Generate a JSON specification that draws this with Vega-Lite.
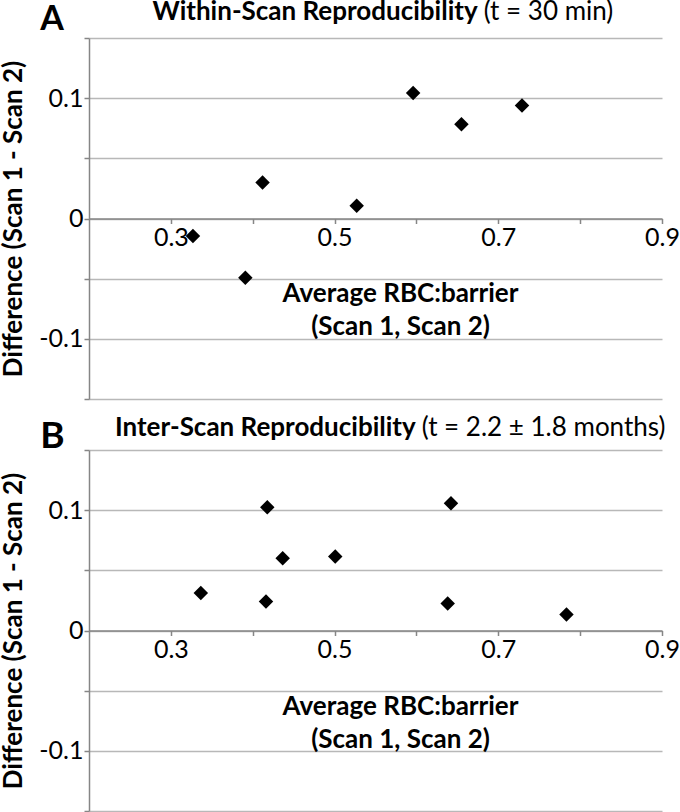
{
  "$schema": "https://vega.github.io/schema/vega-lite/v6.json",
  "padding": {"left": 0, "top": -2, "right": 0, "bottom": 0},
  "spacing": 3,
  "config": {
    "font": "Lato",
    "view": {"stroke": null},
    "axis": {
      "domainColor": "#868686", "domainWidth": 1.5,
      "tickColor": "#868686", "tickWidth": 1.5, "tickSize": 5,
      "labelColor": "black", "labelFontSize": 25, "labelFont": "Lato",
      "titleColor": "black", "titleFont": "Lato", "titleFontWeight": "bold",
      "gridColor": "#b8b8b8", "gridWidth": 1.5
    }
  },
  "datasets": {
    "a": [
      {"avg": 0.327, "diff": -0.0145},
      {"avg": 0.391, "diff": -0.0493},
      {"avg": 0.412, "diff": 0.0299},
      {"avg": 0.527, "diff": 0.0105},
      {"avg": 0.596, "diff": 0.1043},
      {"avg": 0.655, "diff": 0.0783},
      {"avg": 0.729, "diff": 0.0939}
    ],
    "b": [
      {"avg": 0.3366, "diff": 0.0312},
      {"avg": 0.4178, "diff": 0.1024},
      {"avg": 0.4162, "diff": 0.0241},
      {"avg": 0.4366, "diff": 0.0600},
      {"avg": 0.5008, "diff": 0.0615},
      {"avg": 0.6422, "diff": 0.1057},
      {"avg": 0.6382, "diff": 0.0224},
      {"avg": 0.7833, "diff": 0.0133}
    ],
    "titles": [
      {"panel": "A", "heading": "Within-Scan Reproducibility", "note": "(t = 30 min)"},
      {"panel": "B", "heading": "Inter-Scan Reproducibility", "note": "(t = 2.2 ± 1.8 months)"}
    ]
  },
  "vconcat": [
    {
      "width": 573, "height": 361,
      "layer": [
        {
          "data": {"name": "a"},
          "mark": {"type": "point", "shape": "diamond", "filled": true, "color": "black", "opacity": 1, "size": 210},
          "encoding": {
            "x": {"field": "avg", "type": "quantitative",
              "scale": {"domain": [0.2, 0.9], "nice": false, "zero": false},
              "axis": {"orient": "bottom", "offset": -180.5, "grid": false,
                "values": [0.3, 0.4, 0.5, 0.6, 0.7, 0.8, 0.9],
                "labelExpr": "round(datum.value*10)%2==1 ? format(datum.value, '.1f') : ''",
                "labelOverlap": false, "labelFlush": false, "labelPadding": 2,
                "title": ["Average RBC:barrier", "(Scan 1, Scan 2)"],
                "titleFontSize": 26, "titleX": 311, "titleY": 83, "titleAlign": "center",
                "titleBaseline": "alphabetic", "titleLineHeight": 33, "titleAnchor": null}},
            "y": {"field": "diff", "type": "quantitative",
              "scale": {"domain": [-0.15, 0.15], "nice": false, "zero": false},
              "axis": {"grid": true,
                "values": [-0.15, -0.1, -0.05, 0, 0.05, 0.1, 0.15],
                "labelExpr": "round(datum.value*20)==2 ? '0.1' : round(datum.value*20)==0 ? '0' : round(datum.value*20)==-2 ? '-0.1' : ''",
                "labelPadding": 1, "labelOverlap": false,
                "title": "Difference (Scan 1 - Scan 2)", "titleFontSize": 26, "titlePadding": 12}}
          }
        },
        {
          "data": {"name": "titles"},
          "transform": [{"filter": "datum.panel == 'A'"}],
          "mark": {"type": "text", "align": "left", "baseline": "alphabetic", "fontSize": 34, "fontWeight": "bold", "color": "black", "clip": false},
          "encoding": {"x": {"datum": 0.1405, "type": "quantitative"}, "y": {"datum": 0.1569, "type": "quantitative"}, "text": {"field": "panel"}}
        },
        {
          "data": {"name": "titles"},
          "transform": [{"filter": "datum.panel == 'A'"}],
          "mark": {"type": "text", "align": "right", "baseline": "alphabetic", "fontSize": 26, "fontWeight": "bold", "color": "black", "clip": false},
          "encoding": {"x": {"datum": 0.6748, "type": "quantitative"}, "y": {"datum": 0.1652, "type": "quantitative"}, "text": {"field": "heading"}}
        },
        {
          "data": {"name": "titles"},
          "transform": [{"filter": "datum.panel == 'A'"}],
          "mark": {"type": "text", "align": "left", "baseline": "alphabetic", "dx": 6, "fontSize": 26, "fontWeight": "normal", "color": "black", "clip": false},
          "encoding": {"x": {"datum": 0.6748, "type": "quantitative"}, "y": {"datum": 0.1652, "type": "quantitative"}, "text": {"field": "note"}}
        }
      ]
    },
    {
      "width": 573, "height": 361,
      "layer": [
        {
          "data": {"name": "b"},
          "mark": {"type": "point", "shape": "diamond", "filled": true, "color": "black", "opacity": 1, "size": 210},
          "encoding": {
            "x": {"field": "avg", "type": "quantitative",
              "scale": {"domain": [0.2, 0.9], "nice": false, "zero": false},
              "axis": {"orient": "bottom", "offset": -180.5, "grid": false,
                "values": [0.3, 0.4, 0.5, 0.6, 0.7, 0.8, 0.9],
                "labelExpr": "round(datum.value*10)%2==1 ? format(datum.value, '.1f') : ''",
                "labelOverlap": false, "labelFlush": false, "labelPadding": 2,
                "title": ["Average RBC:barrier", "(Scan 1, Scan 2)"],
                "titleFontSize": 26, "titleX": 311, "titleY": 84, "titleAlign": "center",
                "titleBaseline": "alphabetic", "titleLineHeight": 33, "titleAnchor": null}},
            "y": {"field": "diff", "type": "quantitative",
              "scale": {"domain": [-0.15, 0.15], "nice": false, "zero": false},
              "axis": {"grid": true,
                "values": [-0.15, -0.1, -0.05, 0, 0.05, 0.1, 0.15],
                "labelExpr": "round(datum.value*20)==2 ? '0.1' : round(datum.value*20)==0 ? '0' : round(datum.value*20)==-2 ? '-0.1' : ''",
                "labelPadding": 1, "labelOverlap": false,
                "title": "Difference (Scan 1 - Scan 2)", "titleFontSize": 26, "titlePadding": 12}}
          }
        },
        {
          "data": {"name": "titles"},
          "transform": [{"filter": "datum.panel == 'B'"}],
          "mark": {"type": "text", "align": "left", "baseline": "alphabetic", "fontSize": 37, "fontWeight": "bold", "color": "black", "clip": false},
          "encoding": {"x": {"datum": 0.1405, "type": "quantitative"}, "y": {"datum": 0.1519, "type": "quantitative"}, "text": {"field": "panel"}}
        },
        {
          "data": {"name": "titles"},
          "transform": [{"filter": "datum.panel == 'B'"}],
          "mark": {"type": "text", "align": "right", "baseline": "alphabetic", "fontSize": 26, "fontWeight": "bold", "color": "black", "clip": false},
          "encoding": {"x": {"datum": 0.5991, "type": "quantitative"}, "y": {"datum": 0.1616, "type": "quantitative"}, "text": {"field": "heading"}}
        },
        {
          "data": {"name": "titles"},
          "transform": [{"filter": "datum.panel == 'B'"}],
          "mark": {"type": "text", "align": "left", "baseline": "alphabetic", "dx": 6, "fontSize": 26, "fontWeight": "normal", "color": "black", "clip": false},
          "encoding": {"x": {"datum": 0.5991, "type": "quantitative"}, "y": {"datum": 0.1616, "type": "quantitative"}, "text": {"field": "note"}}
        }
      ]
    }
  ]
}
